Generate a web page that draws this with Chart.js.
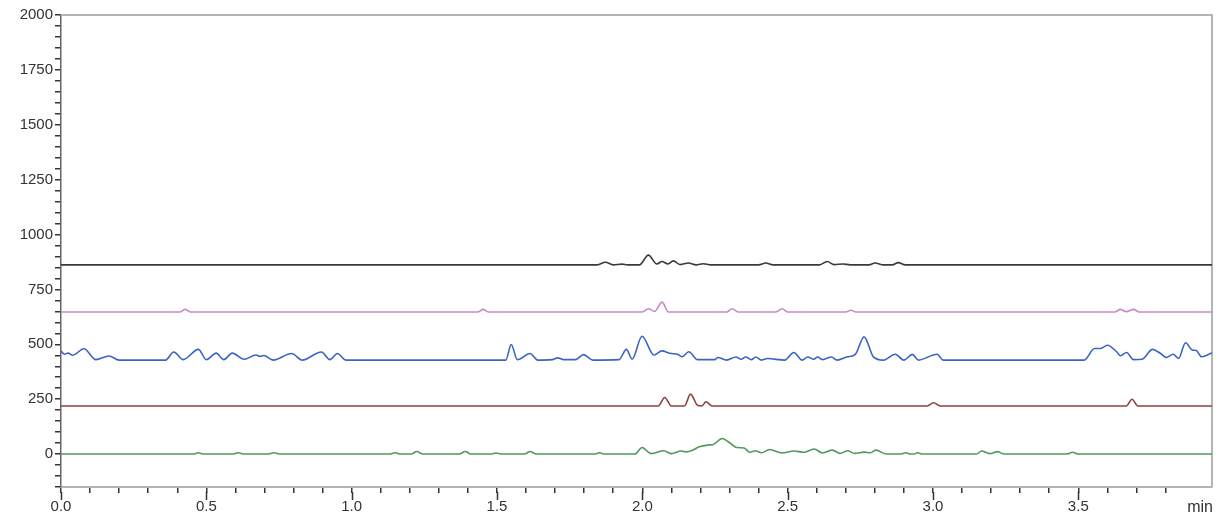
<!DOCTYPE html>
<html>
<head>
<meta charset="utf-8">
<script src="https://cdn.jsdelivr.net/npm/chart.js@4/dist/chart.umd.min.js"></script>
<style>
  html, body { margin: 0; padding: 0; background: #fff; }
  #canv { display: block; }
</style>
</head>
<body>
<canvas id="canv" width="1225" height="521"></canvas>
<script>
// retention time (min), signal — five stacked traces
const blackTrace = [[0,862],[1.845,862],[1.873,874],[1.90,862],[1.93,865],[1.95,862],[1.99,862],[2.021,906],[2.05,866],[2.068,877],[2.088,866],[2.107,880],[2.13,863],[2.159,870],[2.185,862],[2.21,867],[2.235,862],[2.40,862],[2.425,870],[2.45,862],[2.61,862],[2.636,877],[2.66,863],[2.69,866],[2.715,862],[2.78,862],[2.80,870],[2.83,862],[2.86,862],[2.88,872],[2.905,862],[3.96,862]];
const pinkTrace = [[0,647],[0.41,647],[0.427,659],[0.445,647],[1.435,647],[1.453,659],[1.47,647],[2.0,647],[2.021,662],[2.042,650],[2.068,692],[2.09,647],[2.29,647],[2.309,662],[2.33,647],[2.46,647],[2.481,662],[2.50,647],[2.70,647],[2.718,655],[2.735,647],[3.625,647],[3.645,659],[3.665,649],[3.69,659],[3.71,647],[3.96,647]];
const blueTrace = [[0,469],[0.012,455],[0.024,460],[0.04,450],[0.079,480],[0.12,430],[0.165,447],[0.20,428],[0.36,428],[0.388,465],[0.42,430],[0.473,477],[0.50,430],[0.534,460],[0.56,430],[0.589,460],[0.63,432],[0.671,451],[0.685,445],[0.698,449],[0.73,428],[0.794,458],[0.83,428],[0.896,465],[0.925,430],[0.951,458],[0.98,428],[1.53,428],[1.549,499],[1.57,430],[1.614,458],[1.64,428],[1.69,430],[1.709,438],[1.73,430],[1.77,430],[1.798,453],[1.83,428],[1.92,430],[1.945,477],[1.965,432],[1.999,537],[2.04,451],[2.068,470],[2.095,459],[2.123,454],[2.137,443],[2.160,466],[2.19,430],[2.25,430],[2.260,440],[2.29,428],[2.322,442],[2.34,432],[2.356,442],[2.375,430],[2.390,442],[2.41,428],[2.431,435],[2.49,428],[2.521,463],[2.55,428],[2.569,442],[2.59,432],[2.603,442],[2.62,430],[2.651,442],[2.67,428],[2.706,443],[2.733,454],[2.763,534],[2.795,443],[2.83,428],[2.870,455],[2.90,428],[2.929,454],[2.95,428],[3.014,455],[3.035,428],[3.52,428],[3.556,481],[3.577,481],[3.600,496],[3.632,466],[3.645,448],[3.666,463],[3.69,430],[3.72,432],[3.755,477],[3.782,459],[3.803,440],[3.826,455],[3.845,436],[3.869,507],[3.892,474],[3.906,472],[3.924,443],[3.96,461]];
const brownTrace = [[0,219],[2.055,219],[2.077,258],[2.10,219],[2.145,219],[2.166,273],[2.19,222],[2.205,219],[2.219,238],[2.24,219],[2.98,219],[3.002,234],[3.025,219],[3.665,219],[3.685,250],[3.705,219],[3.96,219]];
const greenTrace = [[0,0],[0.455,0],[0.473,6],[0.49,0],[0.59,0],[0.61,6],[0.63,0],[0.71,0],[0.733,6],[0.755,0],[1.13,0],[1.149,6],[1.17,0],[1.205,0],[1.224,12],[1.245,0],[1.37,0],[1.391,12],[1.41,0],[1.48,0],[1.497,5],[1.515,0],[1.595,0],[1.614,12],[1.635,0],[1.835,0],[1.853,6],[1.87,0],[1.975,0],[1.999,30],[2.03,2],[2.074,15],[2.10,2],[2.134,14],[2.15,10],[2.169,15],[2.196,33],[2.226,41],[2.245,44],[2.275,71],[2.296,56],[2.325,30],[2.350,28],[2.37,8],[2.389,15],[2.41,6],[2.438,21],[2.48,5],[2.523,14],[2.555,8],[2.591,23],[2.62,5],[2.654,18],[2.68,3],[2.707,15],[2.73,3],[2.764,9],[2.785,6],[2.804,18],[2.84,0],[2.89,0],[2.905,6],[2.925,0],[2.935,0],[2.947,6],[2.965,0],[3.15,0],[3.167,14],[3.195,2],[3.222,11],[3.245,0],[3.46,0],[3.48,8],[3.50,0],[3.96,0]];

const xMin = 0, xMax = 3.96, xStep = 0.1, xLabelEvery = 0.5;
const yMin = -150, yMax = 2000, yStep = 50, yLabelEvery = 250;
const xUnit = 'min';

const FONT = "'Liberation Sans', Arial, sans-serif";

function toXY(trace) {
  return trace.map(p => ({ x: p[0], y: p[1] }));
}

function trace(data, color) {
  return {
    data: toXY(data),
    borderColor: color,
    borderWidth: 1.6,
    pointRadius: 0,
    fill: false,
    cubicInterpolationMode: 'monotone'
  };
}

// frame, longer major ticks on x, and the unit label
const extras = {
  id: 'extras',
  beforeDatasetsDraw(chart) {
    const a = chart.chartArea, ctx = chart.ctx;
    ctx.save();
    ctx.strokeStyle = '#b4b4b4';
    ctx.lineWidth = 2;
    ctx.beginPath();
    ctx.moveTo(a.left, a.top);
    ctx.lineTo(a.right, a.top);
    ctx.lineTo(a.right, a.bottom);
    ctx.stroke();
    ctx.restore();
  },
  afterDraw(chart) {
    const a = chart.chartArea, ctx = chart.ctx, xs = chart.scales.x;
    ctx.save();
    ctx.strokeStyle = '#333';
    ctx.lineWidth = 1.5;
    for (let v = xMin; v <= xMax + 1e-9; v += xLabelEvery) {
      const px = Math.round(xs.getPixelForValue(v)) + 0.5;
      ctx.beginPath();
      ctx.moveTo(px, a.bottom + 5);
      ctx.lineTo(px, a.bottom + 13);
      ctx.stroke();
    }
    ctx.fillStyle = '#333';
    ctx.font = '16px ' + FONT;
    ctx.textAlign = 'right';
    ctx.textBaseline = 'middle';
    ctx.fillText(xUnit, a.right + 1, a.bottom + 21);
    ctx.restore();
  }
};

new Chart(document.getElementById('canv').getContext('2d'), {
  type: 'line',
  data: {
    datasets: [
      trace(greenTrace, '#4f9a5c'),
      trace(brownTrace, '#8e3f3f'),
      trace(blueTrace, '#3c64c4'),
      trace(pinkTrace, '#c98ac9'),
      trace(blackTrace, '#3a3a3a')
    ]
  },
  options: {
    responsive: false,
    animation: false,
    devicePixelRatio: 1,
    layout: { padding: { top: 15, right: 13, left: 0, bottom: 0 } },
    plugins: { legend: { display: false }, tooltip: { enabled: false } },
    scales: {
      x: {
        type: 'linear',
        min: xMin,
        max: xMax,
        afterBuildTicks(s) {
          s.ticks = s.ticks.filter(t => t.value <= 3.9 + 1e-9);
        },
        afterFit(s) { s.height = 34; },
        ticks: {
          stepSize: xStep,
          autoSkip: false,
          maxRotation: 0,
          padding: 5,
          color: '#333',
          font: { family: FONT, size: 15 },
          callback(v) {
            return Math.round(v * 10) % Math.round(xLabelEvery * 10) === 0 ? v.toFixed(1) : '';
          }
        },
        grid: { drawOnChartArea: false, drawTicks: true, tickLength: 6, color: '#333', lineWidth: 1.5 },
        border: { display: true, color: '#b4b4b4', width: 2 }
      },
      y: {
        min: yMin,
        max: yMax,
        afterFit(s) { s.width = 61; },
        ticks: {
          stepSize: yStep,
          autoSkip: false,
          padding: 2,
          color: '#333',
          font: { family: FONT, size: 15 },
          callback(v) {
            return Math.round(v) % yLabelEvery === 0 ? String(v) : '';
          }
        },
        grid: { drawOnChartArea: false, drawTicks: true, tickLength: 6, color: '#333', lineWidth: 1.5 },
        border: { display: true, color: '#666', width: 1.5 }
      }
    }
  },
  plugins: [extras]
});
</script>
</body>
</html>
